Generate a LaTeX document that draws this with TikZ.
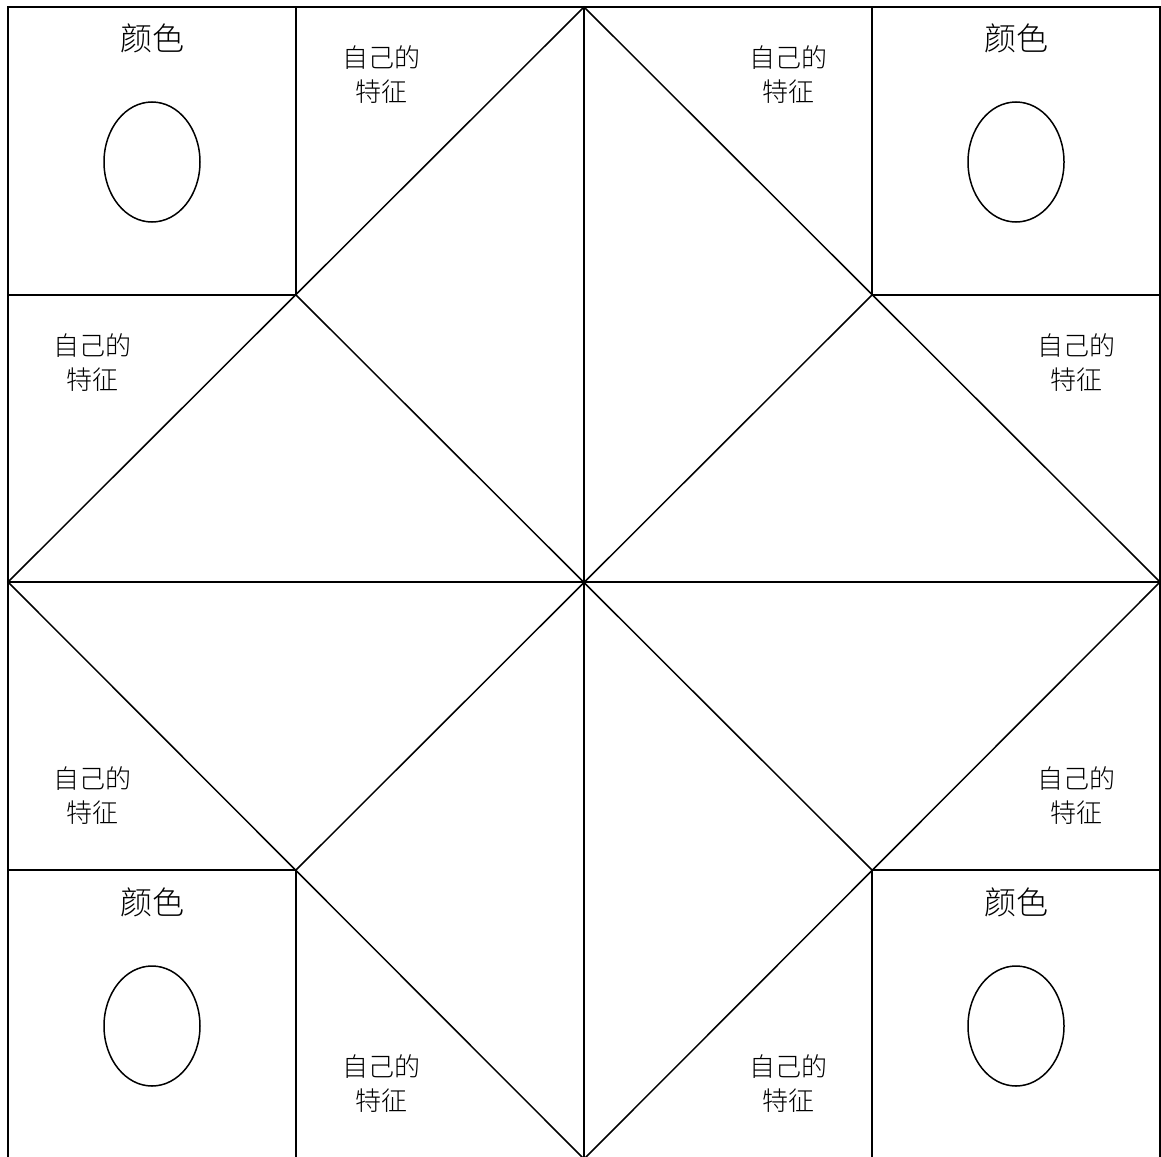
\documentclass[tikz,border=0pt]{standalone}
\usepackage{fontspec}
\newfontfamily\cjk{Noto Sans CJK SC Light}
\usetikzlibrary{positioning}
\tikzset{
  fold/.style={line width=1.5pt, black, line cap=round},
  colourlabel/.style={font=\cjk\fontsize{32}{36}\selectfont, inner sep=0pt},
  traitlabel/.style={font=\cjk\fontsize{26}{34}\selectfont, align=center, inner sep=0pt},
  colourdot/.style={line width=1.5pt, black}
}

\begin{document}
\begin{tikzpicture}[x=1pt, y=-1pt]
  \useasboundingbox (0,0) rectangle (1161,1156);
  % grid points
  \coordinate (tl) at (8,7);     \coordinate (tm) at (584,7);    \coordinate (tr) at (1160,7);
  \coordinate (ml) at (8,582);   \coordinate (c) at (584,582);   \coordinate (mr) at (1160,582);
  \coordinate (bl) at (8,1159);  \coordinate (bm) at (584,1159); \coordinate (br) at (1160,1159);
  \coordinate (a) at (296,295);  \coordinate (b) at (872,295);
  \coordinate (d) at (296,870);  \coordinate (e) at (872,870);

  % outer square and corner squares
  \draw[fold] (tl) rectangle (br);
  \draw[fold] (296,7) -- (a) -- (8,295);
  \draw[fold] (872,7) -- (b) -- (1160,295);
  \draw[fold] (296,1159) -- (d) -- (8,870);
  \draw[fold] (872,1159) -- (e) -- (1160,870);
  \draw[fold] (tm) -- (bm);
  \draw[fold] (ml) -- (mr);

  % diamonds and cross
  \draw[fold] (tm) -- (mr) -- (bm) -- (ml) -- cycle;
  \draw[fold] (a) -- (e);
  \draw[fold] (b) -- (d);

  % colour squares
  \node[colourlabel] (col1) at (152,38) {颜色};
  \node[colourlabel] (col2) at (1016,38) {颜色};
  \node[colourlabel] (col3) at (152,902) {颜色};
  \node[colourlabel] (col4) at (1016,902) {颜色};
  \draw[colourdot] (152,162) ellipse [x radius=48, y radius=60];
  \draw[colourdot] (1016,162) ellipse [x radius=48, y radius=60];
  \draw[colourdot] (152,1026) ellipse [x radius=48, y radius=60];
  \draw[colourdot] (1016,1026) ellipse [x radius=48, y radius=60];

  % trait labels
  \node[traitlabel] (tr1) at (381,75) {自己的\\特征};
  \node[traitlabel] (tr2) at (788,75) {自己的\\特征};
  \node[traitlabel] (tr3) at (92,363) {自己的\\特征};
  \node[traitlabel] (tr4) at (1076,363) {自己的\\特征};
  \node[traitlabel] (tr5) at (92,796) {自己的\\特征};
  \node[traitlabel] (tr6) at (1076,796) {自己的\\特征};
  \node[traitlabel] (tr7) at (381,1084) {自己的\\特征};
  \node[traitlabel] (tr8) at (788,1084) {自己的\\特征};
\end{tikzpicture}
\end{document}
